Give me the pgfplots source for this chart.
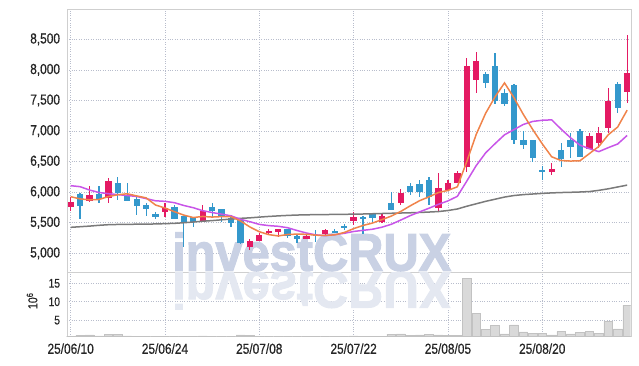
\documentclass[border=0pt]{standalone}
\usepackage{pgfplots}
\pgfplotsset{compat=1.18}
\usepackage{pgfplotstable}
\usepackage{fontspec}
\setmainfont{Liberation Sans}[FakeStretch=0.82, FakeBold=0.5]
\newfontfamily\wmfont{Liberation Sans}[FakeStretch=0.92, FakeBold=2]
\definecolor{upc}{HTML}{E41A63}
\definecolor{dnc}{HTML}{3498CC}
\definecolor{maA}{HTML}{F0834A}
\definecolor{maB}{HTML}{C855E8}
\definecolor{maC}{HTML}{7A7A7A}
\definecolor{gridc}{HTML}{B8BDCC}
\definecolor{framec}{HTML}{CFCFCF}
\definecolor{wm}{HTML}{C9D1E4}
\definecolor{wmr}{HTML}{E4E8F1}
\definecolor{volc}{HTML}{D9D9D9}
\definecolor{vole}{HTML}{C2C2C2}

\pgfplotstableread{
i o h l c
0 5762 5926 5697 5839
2 5861 6101 5845 5954
4 5900 6227 5818 6183
10 5681 5818 5599 5746
14 5517 5790 5517 5692
19 5108 5234 5054 5201
20 5201 5327 5201 5299
21 5337 5393 5299 5365
22 5349 5398 5272 5393
25 5229 5311 5229 5283
27 5316 5393 5299 5381
30 5533 5681 5463 5599
33 5517 5654 5490 5610
35 5828 6047 5790 5981
39 5736 6309 5681 6063
40 6036 6199 6036 6145
41 6145 6351 6145 6309
42 6417 8190 6335 8064
43 7835 8298 7627 8145
51 6335 6482 6281 6379
55 6706 6973 6706 6919
56 6800 7071 6717 6963
57 7045 7700 6963 7497
59 7644 8571 7454 7955
}\up

\pgfplotstableread{
i o h l c
1 5970 5982 5561 5779
3 5970 6101 5818 5883
5 6145 6253 5872 5991
6 5954 6145 5861 5861
7 5883 5926 5627 5779
8 5790 5818 5610 5720
9 5648 5681 5556 5599
11 5762 5790 5561 5561
12 5610 5610 5098 5501
13 5599 5599 5425 5517
15 5762 5828 5572 5692
16 5720 5720 5517 5599
17 5583 5627 5435 5501
18 5545 5550 5150 5164
23 5398 5398 5245 5283
24 5283 5311 5173 5229
26 5305 5381 5190 5290
28 5365 5393 5327 5327
29 5447 5474 5381 5419
31 5599 5610 5311 5556
32 5638 5665 5490 5572
34 5828 5998 5708 5708
36 6101 6145 5954 6008
37 6129 6199 5926 5998
38 6199 6243 5790 5926
44 7928 7971 7700 7791
45 8064 8282 7443 7492
46 7618 7684 7410 7443
47 7753 7770 6788 6853
48 6853 7001 6706 6772
49 6853 6853 6499 6554
50 6363 6433 6199 6335
52 6690 6800 6417 6543
53 6854 6963 6554 6734
54 7001 7030 6580 6580
58 7770 7808 7290 7372
}\down

\pgfplotstableread{
i a b g
0 5926 6106 5425
1 5890 6090 5435
2 5875 6035 5445
3 5880 5995 5458
4 5928 5975 5468
5 5958 5960 5472
6 5974 5945 5474
7 5939 5930 5476
8 5907 5895 5478
9 5790 5859 5480
10 5741 5850 5485
11 5681 5828 5490
12 5625 5782 5500
13 5585 5746 5512
14 5603 5697 5525
15 5593 5667 5535
16 5600 5641 5548
17 5600 5613 5560
18 5530 5557 5572
19 5431 5517 5580
20 5353 5473 5592
21 5306 5453 5603
22 5284 5442 5612
23 5308 5419 5620
24 5314 5373 5626
25 5311 5332 5630
26 5296 5301 5632
27 5293 5289 5634
28 5302 5305 5636
29 5340 5327 5638
30 5403 5357 5640
31 5456 5376 5643
32 5495 5394 5647
33 5551 5427 5651
34 5609 5475 5655
35 5685 5544 5659
36 5776 5616 5663
37 5861 5678 5668
38 5924 5738 5675
39 5995 5802 5683
40 6028 5857 5700
41 6088 5932 5725
42 6501 6181 5770
43 6945 6435 5810
44 7291 6643 5850
45 7560 6794 5885
46 7787 6938 5920
47 7545 7023 5945
48 7270 7108 5960
49 7023 7157 5970
50 6791 7176 5980
51 6579 7183 5988
52 6517 7031 5994
53 6509 6890 5998
54 6514 6769 6003
55 6631 6711 6010
56 6748 6663 6030
57 6939 6728 6055
58 7066 6788 6085
59 7341 6928 6115
}\ma

\pgfplotstableread{
i v
0 0.6
1 0.9
2 1.0
3 0.7
4 1.1
5 1.1
6 0.7
7 0.6
8 0.5
9 0.4
10 0.5
11 0.5
12 0.6
13 0.5
14 0.7
15 0.5
16 0.5
17 0.5
18 1.0
19 0.8
20 0.6
21 0.5
22 0.4
23 0.5
24 0.5
25 0.4
26 0.5
27 0.5
28 0.4
29 0.5
30 0.7
31 0.6
32 0.5
33 0.6
34 1.2
35 1.3
36 0.9
37 1.0
38 1.2
39 1.0
40 0.9
41 0.8
42 16.35
43 6.9
44 2.4
45 3.5
46 1.3
47 3.7
48 1.8
49 1.5
50 1.5
51 1.0
52 1.9
53 1.3
54 1.6
55 1.9
56 1.5
57 4.6
58 2.6
59 9.1
}\vol

\pgfplotsset{
  common/.style={
    scale only axis,
    width=564pt,
    xmin=-0.42, xmax=59.38,
    enlargelimits=false,
    axis line style={draw=framec},
    major tick length=0pt,
    grid=major,
    major grid style={dotted, draw=gridc, line width=0.6pt},
    xtick={0,10,20,30,40,50},
    ticklabel style={font=\fontsize{14.5}{14.5}\selectfont, text=black!85},
    /pgf/number format/1000 sep={,},
    /pgf/number format/assume math mode=true,
    scaled y ticks=false,
  },
  candle/.style 2 args={forget plot, draw=none, mark=none,
    error bars/.cd, y dir=both, y explicit, error mark=none,
    error bar style={line width=#1, draw=#2}},
}

\begin{document}
\begin{tikzpicture}
\useasboundingbox (0,0) rectangle (639pt,366pt);

% price panel
\begin{axis}[common,
  at={(66.7pt,93.3pt)}, anchor=south west,
  height=263.4pt,
  ymin=4683, ymax=8991,
  ytick={5000,5500,6000,6500,7000,7500,8000,8500},
  xticklabels={},
  yticklabel style={inner sep=0pt, xshift=-6.5pt},
]
\node[anchor=base west, inner sep=0pt, text=wm] at (axis cs:10.74,4715)
  {\wmfont\bfseries\fontsize{53}{53}\selectfont investCRUX};

% wicks
\addplot[candle={1.2pt}{upc}]
  table[x=i, y expr=(\thisrow{h}+\thisrow{l})/2, y error expr=(\thisrow{h}-\thisrow{l})/2] {\up};
\addplot[candle={1.2pt}{dnc}]
  table[x=i, y expr=(\thisrow{h}+\thisrow{l})/2, y error expr=(\thisrow{h}-\thisrow{l})/2] {\down};
% bodies
\addplot[candle={6.3pt}{upc}]
  table[x=i, y expr=(\thisrow{o}+\thisrow{c})/2, y error expr=(\thisrow{c}-\thisrow{o})/2] {\up};
\addplot[candle={6.3pt}{dnc}]
  table[x=i, y expr=(\thisrow{o}+\thisrow{c})/2, y error expr=(\thisrow{o}-\thisrow{c})/2] {\down};

% moving averages
\addplot[maC, line width=1.5pt, mark=none] table[x=i, y=g] {\ma};
\addplot[maB, line width=1.5pt, mark=none] table[x=i, y=b] {\ma};
\addplot[maA, line width=1.5pt, mark=none] table[x=i, y=a] {\ma};
\end{axis}

% volume panel
\begin{axis}[common,
  at={(66.7pt,29.3pt)}, anchor=south west,
  height=64pt,
  ymin=0.5, ymax=17.9,
  ytick={5,10,15},
  xticklabels={25/06/10,25/06/24,25/07/08,25/07/22,25/08/05,25/08/20},
  xticklabel style={inner sep=0pt, yshift=-6.4pt},
  yticklabel style={inner sep=0pt, xshift=-6.5pt, font=\fontsize{12.5}{12.5}\selectfont},
  ylabel={10\textsuperscript{6}},
  ylabel style={at={(axis description cs:-0.0615,0.56)}, anchor=center,
    font=\fontsize{13}{13}\selectfont, text=black!85},
]
\node[anchor=base west, inner sep=0pt, text=wmr, yscale=-1] at (axis cs:10.74,18.36)
  {\wmfont\bfseries\fontsize{53}{53}\selectfont investCRUX};
\addplot[ybar, bar width=0.92, bar shift=0pt, fill=volc, draw=vole, line width=0.5pt]
  table[x=i, y=v] {\vol};
\end{axis}
\end{tikzpicture}
\end{document}
